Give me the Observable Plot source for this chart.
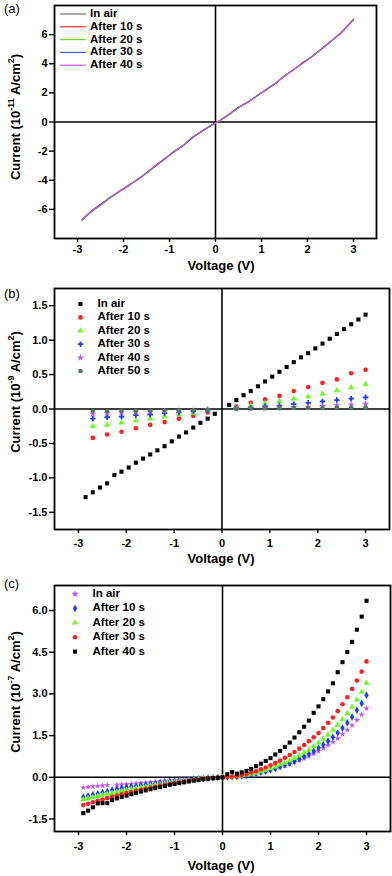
<!DOCTYPE html>
<html><head><meta charset="utf-8">
<script src="https://cdn.jsdelivr.net/npm/d3@7"></script>
<script src="https://cdn.jsdelivr.net/npm/@observablehq/plot@0.6"></script>
<style>
body{margin:0;background:#fff;}
#wrap{position:relative;width:392px;height:876px;font-family:Arial,"Liberation Sans",sans-serif;overflow:hidden;}
.panel{position:absolute;left:0;}
.plab{position:absolute;left:4px;font-size:13px;line-height:13px;color:#000;}
</style>
</head><body><div id="wrap"></div>
<script>
// ---------- Panel (a) ----------
const xA = [-2.9,-2.7,-2.5,-2.3,-2.1,-1.9,-1.7,-1.5,-1.3,-1.1,-0.9,-0.7,-0.5,-0.3,-0.1,0.1,0.3,0.5,0.7,0.9,1.1,1.3,1.5,1.7,1.9,2.1,2.3,2.5,2.7,2.9,3.0];
const airA = [-6.70,-6.15,-5.70,-5.20,-4.80,-4.40,-3.95,-3.50,-3.00,-2.50,-2.05,-1.60,-1.05,-0.65,-0.25,0.10,0.55,1.00,1.35,1.80,2.20,2.65,3.15,3.60,4.05,4.50,5.00,5.50,6.05,6.70,7.05];
const s10A = [-6.68,-6.10,-5.65,-5.22,-4.75,-4.35,-3.98,-3.52,-2.95,-2.52,-2.00,-1.62,-1.08,-0.62,-0.22,0.12,0.52,1.02,1.38,1.78,2.25,2.62,3.18,3.58,4.10,4.48,5.02,5.55,6.00,6.65,7.00];
const s20A = [-6.72,-6.18,-5.72,-5.25,-4.82,-4.42,-3.92,-3.55,-3.05,-2.48,-2.08,-1.58,-1.02,-0.68,-0.28,0.08,0.50,0.98,1.32,1.82,2.18,2.68,3.12,3.62,4.02,4.52,4.98,5.48,6.08,6.68,7.02];
const s30A = [-6.75,-6.12,-5.68,-5.18,-4.78,-4.38,-3.97,-3.48,-3.02,-2.55,-2.02,-1.63,-1.06,-0.64,-0.26,0.11,0.56,1.01,1.36,1.79,2.22,2.64,3.16,3.61,4.06,4.51,5.01,5.52,6.04,6.72,7.06];
const s40A = [-6.69,-6.16,-5.71,-5.21,-4.79,-4.41,-3.94,-3.51,-2.99,-2.51,-2.06,-1.59,-1.04,-0.66,-0.24,0.10,0.54,0.99,1.34,1.81,2.21,2.66,3.14,3.59,4.04,4.49,4.99,5.51,6.06,6.69,7.08];
const labelsA = ["In air","After 10 s","After 20 s","After 30 s","After 40 s"];
const colorsA = ["#707070","#ff2a2a","#6ddc2e","#3a5cff","#c85ad8"];
const yTicksA = [-6,-4,-2,0,2,4,6];

// ---------- Panel (b) ----------
const xB1 = [-2.85,-2.7,-2.55,-2.4,-2.25,-2.1,-1.95,-1.8,-1.65,-1.5,-1.35,-1.2,-1.05,-0.9,-0.75,-0.6,-0.45,-0.3,-0.15,0.15,0.3,0.45,0.6,0.75,0.9,1.05,1.2,1.35,1.5,1.65,1.8,1.95,2.1,2.25,2.4,2.55,2.7,2.85,3.0];
const airB = [-1.28,-1.21,-1.14,-1.08,-0.96,-0.91,-0.85,-0.78,-0.72,-0.66,-0.60,-0.54,-0.47,-0.40,-0.34,-0.27,-0.20,-0.14,-0.07,0.06,0.13,0.20,0.26,0.33,0.40,0.47,0.54,0.61,0.68,0.75,0.81,0.88,0.95,1.02,1.09,1.16,1.23,1.30,1.37];
const xB2 = [-2.7,-2.4,-2.1,-1.8,-1.5,-1.2,-0.9,-0.6,-0.3,0.3,0.6,0.9,1.2,1.5,1.8,2.1,2.4,2.7,3.0];
const s10B = [-0.42,-0.37,-0.33,-0.28,-0.23,-0.19,-0.14,-0.10,-0.05,0.04,0.09,0.14,0.19,0.26,0.32,0.38,0.43,0.52,0.57];
const s20B = [-0.25,-0.23,-0.20,-0.17,-0.14,-0.11,-0.08,-0.06,-0.02,0.02,0.05,0.08,0.11,0.15,0.18,0.22,0.27,0.31,0.36];
const s30B = [-0.14,-0.12,-0.11,-0.09,-0.08,-0.06,-0.05,-0.03,-0.02,0.01,0.02,0.04,0.05,0.07,0.09,0.11,0.13,0.15,0.17];
const s40B = [-0.07,-0.06,-0.05,-0.045,-0.04,-0.03,-0.025,-0.02,-0.01,0.005,0.01,0.015,0.02,0.025,0.03,0.04,0.05,0.06,0.075];
const s50B = [-0.03,-0.03,-0.03,-0.03,-0.025,-0.025,-0.02,-0.02,-0.01,0.005,0.01,0.01,0.01,0.015,0.015,0.015,0.02,0.02,0.02];
const labelsB = ["In air","After 10 s","After 20 s","After 30 s","After 40 s","After 50 s"];
const colorsB = ["#000000","#ff1e1e","#66ff22","#1a3cff","#c050ff","#4b7b5b"];
const symbolsB = ["square","circle","triangle","cross","star","circle"];
const yTicksB = [-1.5,-1.0,-0.5,0.0,0.5,1.0,1.5];

// ---------- Panel (c) ----------
const xC = [-2.9,-2.8,-2.7,-2.6,-2.5,-2.4,-2.3,-2.2,-2.1,-2.0,-1.9,-1.8,-1.7,-1.6,-1.5,-1.4,-1.3,-1.2,-1.1,-1.0,-0.9,-0.8,-0.7,-0.6,-0.5,-0.4,-0.3,-0.2,-0.1,0,
  0.1,0.2,0.3,0.4,0.5,0.6,0.7,0.8,0.9,1.0,1.1,1.2,1.3,1.4,1.5,1.6,1.7,1.8,1.9,2.0,2.1,2.2,2.3,2.4,2.5,2.6,2.7,2.8,2.9,3.0];
const airC = [-0.37,-0.35,-0.33,-0.31,-0.30,-0.28,null,-0.27,-0.26,-0.25,-0.24,-0.22,-0.21,-0.20,-0.18,-0.17,-0.15,-0.14,-0.12,-0.11,-0.10,-0.085,-0.07,-0.06,-0.05,-0.04,-0.03,-0.02,-0.01,0,
  0.01,0.02,0.03,0.05,0.08,0.11,0.14,0.18,0.22,0.26,0.31,0.36,0.42,0.48,0.54,0.61,0.68,0.76,0.85,0.94,1.04,1.15,1.27,1.40,1.55,1.70,1.87,2.06,2.26,2.48];
const s10C = [-0.71,-0.67,-0.63,-0.59,-0.55,-0.51,-0.46,-0.42,-0.40,-0.37,-0.34,-0.32,-0.29,-0.27,-0.24,-0.22,-0.20,-0.18,-0.16,-0.14,-0.12,-0.10,-0.085,-0.07,-0.055,-0.04,-0.03,-0.02,-0.01,0,
  0.01,0.02,0.03,0.05,0.07,0.10,0.14,0.18,0.22,0.27,0.32,0.38,0.44,0.51,0.58,0.66,0.75,0.84,0.94,1.05,1.17,1.30,1.44,1.60,1.77,1.96,2.17,2.41,2.66,2.95];
const s20C = [-0.80,-0.76,-0.72,-0.68,-0.64,-0.60,-0.57,-0.53,-0.50,-0.46,-0.43,-0.40,-0.37,-0.34,-0.31,-0.28,-0.25,-0.23,-0.20,-0.18,-0.15,-0.13,-0.11,-0.09,-0.07,-0.05,-0.035,-0.02,-0.01,0,
  0.01,0.02,0.04,0.06,0.09,0.12,0.16,0.21,0.26,0.32,0.38,0.45,0.52,0.60,0.69,0.78,0.88,0.99,1.11,1.24,1.38,1.53,1.70,1.88,2.08,2.30,2.53,2.79,3.07,3.39];
const s30C = [-1.00,-0.95,-0.90,-0.85,-0.80,-0.75,-0.70,-0.66,-0.61,-0.57,-0.53,-0.49,-0.45,-0.41,-0.37,-0.34,-0.30,-0.27,-0.24,-0.21,-0.18,-0.15,-0.13,-0.10,-0.08,-0.06,-0.04,-0.025,-0.01,0,
  0.01,0.03,0.05,0.08,0.12,0.17,0.22,0.29,0.35,0.43,0.51,0.60,0.70,0.80,0.91,1.03,1.16,1.30,1.44,1.59,1.77,1.96,2.15,2.38,2.63,2.88,3.18,3.48,3.80,4.17];
const s40C = [-1.29,-1.20,-1.08,-0.94,-0.93,-0.93,-0.82,-0.76,-0.71,-0.66,-0.61,-0.56,-0.51,-0.47,-0.43,-0.39,-0.35,-0.31,-0.27,-0.24,-0.21,-0.18,-0.15,-0.12,-0.10,-0.07,-0.05,-0.03,-0.015,0,
  0.11,0.19,0.13,0.18,0.23,0.30,0.40,0.49,0.59,0.69,0.82,0.95,1.09,1.25,1.43,1.62,1.82,2.04,2.32,2.55,2.81,3.09,3.38,3.78,4.14,4.51,4.87,5.31,5.78,6.35];
const labelsC = ["In air","After 10 s","After 20 s","After 30 s","After 40 s"];
const colorsC = ["#c050ff","#1a3cff","#66ff22","#ff1e1e","#000000"];
const symbolsC = ["star","diamond","triangle","circle","square"];
const yTicksC = [-1.5,0.0,1.5,3.0,4.5,6.0];

const xTicks = [-3,-2,-1,0,1,2,3];
const xDomain = [-3.5, 3.5];
const FONT = "Arial, 'Liberation Sans', sans-serif";
const wrap = document.getElementById("wrap");
const R = 2.3;
const SYM = {square:d3.symbolSquare,circle:d3.symbolCircle,triangle:d3.symbolTriangle,cross:d3.symbolCross,star:d3.symbolStar,diamond:d3.symbolDiamond};

function rows(xs, ys) { return xs.map((x,i)=>({x, y: ys[i]})).filter(d=>d.y!=null); }

function panel(cfg) {
  const marks = [
    Plot.ruleX([0], {stroke:"#000", strokeWidth:1.6}),
    Plot.ruleY([0], {stroke:"#000", strokeWidth:1.6}),
    ...cfg.marks,
    Plot.frame({stroke:"#000", strokeWidth:1.8}),
    Plot.axisX({ticks: xTicks, tickSize:4, tickPadding: cfg.xPad, tickFormat: d=>String(d), label:null, strokeWidth:1.4, fontWeight:"bold"}),
    Plot.axisY({ticks: cfg.yTicks, tickSize:5, tickPadding:2, tickFormat: cfg.yFmt, label:null, strokeWidth:1.4, fontWeight:"bold"})
  ];
  const svg = Plot.plot({
    width: 392, height: cfg.height,
    marginLeft: 54, marginRight: cfg.mr, marginTop: cfg.mt, marginBottom: cfg.mb,
    x: {domain: xDomain},
    y: {domain: cfg.yDomain},
    style: {fontFamily: FONT, fontSize: "11px"},
    marks
  });
  const div = document.createElement("div");
  div.className = "panel";
  div.style.top = cfg.top + "px";
  div.style.width = "392px";
  div.appendChild(svg);
  wrap.appendChild(div);
  const s = d3.select(svg);
  const t = s.append("text")
    .attr("transform", `translate(17,${cfg.yMid}) rotate(-90)`)
    .attr("text-anchor","middle").attr("dominant-baseline","middle")
    .attr("font-family", FONT).attr("font-size", 13).attr("font-weight","bold").attr("fill","#000");
  t.append("tspan").text("Current (10");
  t.append("tspan").attr("font-size", 9).attr("dy", -5).text(cfg.exp);
  t.append("tspan").attr("dy", 5).text(" A/cm");
  t.append("tspan").attr("font-size", 9).attr("dy", -5).text("2");
  t.append("tspan").attr("dy", 5).text(")");
  s.append("text").attr("x", 221).attr("y", cfg.xTitleY)
    .attr("text-anchor","middle").attr("dominant-baseline","middle")
    .attr("font-family", FONT).attr("font-size", 13).attr("font-weight","bold").attr("fill","#000")
    .text("Voltage (V)");
  const L = cfg.legend;
  L.labels.forEach((lab, i) => {
    const yy = L.y0 + i * L.dy;
    if (L.kind === "line") {
      s.append("line").attr("x1", L.mx - 13).attr("x2", L.mx + 13).attr("y1", yy).attr("y2", yy)
        .attr("stroke", L.colors[i]).attr("stroke-width", 1.2);
    } else {
      s.append("path").attr("transform", `translate(${L.mx},${yy})`)
        .attr("d", d3.symbol(SYM[L.symbols[i]], Math.PI * R * R)()).attr("fill", L.colors[i]);
    }
    s.append("text").attr("x", L.tx).attr("y", yy)
      .attr("text-anchor","start").attr("dominant-baseline","middle")
      .attr("font-family", FONT).attr("font-size", 11.5).attr("font-weight","bold").attr("fill","#000")
      .text(lab);
  });
  const p = document.createElement("div");
  p.className = "plab";
  p.style.top = (cfg.top + cfg.labY - 6) + "px";
  p.textContent = cfg.tag;
  wrap.appendChild(p);
}

const seriesA = [airA, s10A, s20A, s30A, s40A];
panel({
  top: 0, height: 275, mt: 5, mb: 37, mr: 16, xPad: 3,
  yDomain: [-8, 8], yTicks: yTicksA, yFmt: d=>String(d), exp: "-11",
  yMid: 117, xTitleY: 267, labY: 8, tag: "(a)",
  marks: seriesA.map((ys, i) => Plot.line(rows(xA, ys), {x:"x", y:"y", stroke: colorsA[i], strokeWidth: 1.1})),
  legend: {kind:"line", labels: labelsA, colors: colorsA, mx: 73, tx: 90, y0: 14, dy: 12.8}
});

const seriesB = [[xB1, airB],[xB2, s10B],[xB2, s20B],[xB2, s30B],[xB2, s40B],[xB2, s50B]];
panel({
  top: 283, height: 285, mt: 5, mb: 39, mr: 3, xPad: 6,
  yDomain: [-1.75, 1.75], yTicks: yTicksB, yFmt: d=>d.toFixed(1), exp: "-9",
  yMid: 109, xTitleY: 277, labY: 10, tag: "(b)",
  marks: seriesB.map(([xs, ys], i) => Plot.dot(rows(xs, ys), {x:"x", y:"y", fill: colorsB[i], symbol: symbolsB[i], r: R})),
  legend: {kind:"sym", labels: labelsB, colors: colorsB, symbols: symbolsB, mx: 80.5, tx: 97.5, y0: 21, dy: 13.4}
});

const seriesC = [airC, s10C, s20C, s30C, s40C];
panel({
  top: 580, height: 296, mt: 5, mb: 45, mr: 2, xPad: 7,
  yDomain: [-1.95, 6.9], yTicks: yTicksC, yFmt: d=>d.toFixed(1), exp: "-7",
  yMid: 112, xTitleY: 287, labY: 3, tag: "(c)",
  marks: seriesC.map((ys, i) => Plot.dot(rows(xC, ys), {x:"x", y:"y", fill: colorsC[i], symbol: symbolsC[i], r: i === 0 ? 2.0 : R})),
  legend: {kind:"sym", labels: labelsC, colors: colorsC, symbols: symbolsC, mx: 75, tx: 92.5, y0: 14, dy: 14.4}
});
</script></body></html>
